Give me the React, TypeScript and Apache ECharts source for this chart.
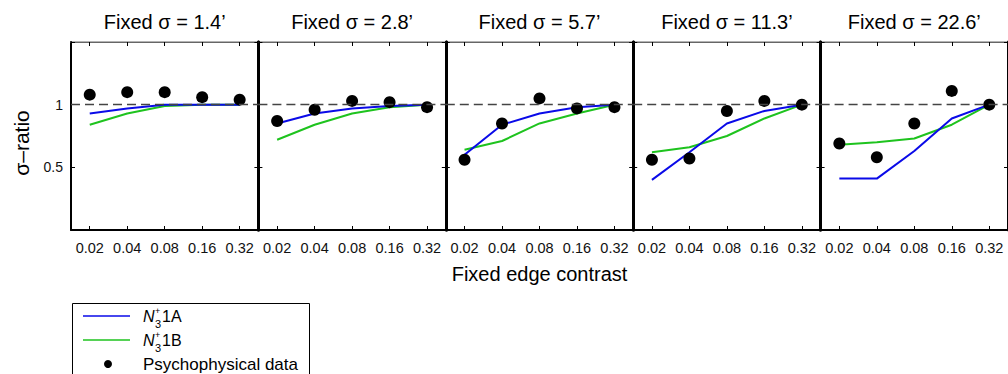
import React, { useEffect, useRef } from "react";
import * as echarts from "echarts";

const contrasts = ["0.02", "0.04", "0.08", "0.16", "0.32"];
const panelTitles = ["Fixed σ = 1.4’", "Fixed σ = 2.8’", "Fixed σ = 5.7’", "Fixed σ = 11.3’", "Fixed σ = 22.6’"];
const yTickLabels: Record<string, string> = { "0.5": "0.5", "1": "1" };

const psychData = [
  [1.08, 1.1, 1.1, 1.06, 1.04],
  [0.87, 0.96, 1.03, 1.02, 0.98],
  [0.56, 0.85, 1.05, 0.97, 0.98],
  [0.56, 0.57, 0.95, 1.03, 1.0],
  [0.69, 0.58, 0.85, 1.11, 1.0],
];
const model1A = [
  [0.93, 0.97, 1.0, 1.0, 1.0],
  [0.85, 0.93, 0.97, 0.99, 1.0],
  [0.6, 0.84, 0.93, 0.98, 1.0],
  [0.4, 0.62, 0.85, 0.95, 1.0],
  [0.41, 0.41, 0.63, 0.89, 1.0],
];
const model1B = [
  [0.84, 0.93, 0.99, 1.0, 1.0],
  [0.72, 0.84, 0.93, 0.98, 1.0],
  [0.64, 0.71, 0.85, 0.93, 1.0],
  [0.62, 0.66, 0.75, 0.89, 1.0],
  [0.68, 0.7, 0.73, 0.84, 1.0],
];

const FONT = "'Liberation Sans', Arial, Helvetica, sans-serif";
const BLUE = "#0a0ae8";
const GREEN = "#1ec31e";

export default function App() {
  const ref = useRef<HTMLDivElement>(null);

  useEffect(() => {
    if (!ref.current) return;
    const chart = echarts.init(ref.current, undefined, { renderer: "svg" });
    const n = panelTitles.length;
    const gLeft = 71;
    const gW = 187.4;
    const gTop = 42;
    const gH = 188;

    const grids: any[] = [];
    const xAxes: any[] = [];
    const yAxes: any[] = [];
    const series: any[] = [];
    const graphics: any[] = [];

    for (let i = 0; i < n; i++) {
      grids.push({
        left: gLeft + i * gW,
        top: gTop,
        width: gW,
        height: gH,
        containLabel: false,
        show: true,
        borderColor: "#666",
        borderWidth: 1,
        backgroundColor: "transparent",
      });
      xAxes.push({
        type: "category",
        gridIndex: i,
        position: "bottom",
        data: contrasts,
        boundaryGap: true,
        axisLine: { show: true, onZero: false, lineStyle: { color: "#000", width: 2 } },
        axisTick: { show: true, inside: true, alignWithLabel: true, interval: 0, length: 4, lineStyle: { color: "#000", width: 1 } },
        axisLabel: { show: true, interval: 0, hideOverlap: false, margin: 10, fontSize: 14.5, color: "#111", fontFamily: FONT },
        splitLine: { show: false },
      });
      xAxes.push({
        type: "category",
        gridIndex: i,
        position: "top",
        data: contrasts,
        boundaryGap: true,
        axisLine: { show: true, onZero: false, lineStyle: { color: "#666", width: 1 } },
        axisTick: { show: true, inside: true, alignWithLabel: true, interval: 0, length: 4, lineStyle: { color: "#000", width: 1 } },
        axisLabel: { show: false, interval: 0 },
        splitLine: { show: false },
      });
      yAxes.push({
        type: "value",
        gridIndex: i,
        position: "left",
        min: 0,
        max: 1.5,
        interval: 0.5,
        axisLine: { show: true, onZero: false, lineStyle: { color: "#000", width: i === 0 ? 2 : 3 } },
        axisTick: { show: true, inside: true, length: 4, lineStyle: { color: "#000", width: 1 } },
        axisLabel: {
          show: i === 0,
          margin: 8,
          fontSize: 14,
          color: "#111",
          fontFamily: FONT,
          formatter: (v: number) => yTickLabels[String(v)] ?? "",
        },
        splitLine: { show: false },
      });
      yAxes.push({
        type: "value",
        gridIndex: i,
        position: "right",
        min: 0,
        max: 1.5,
        interval: 0.5,
        axisLine: { show: true, onZero: false, lineStyle: { color: "#000", width: 3 } },
        axisTick: { show: true, inside: true, length: 4, lineStyle: { color: "#000", width: 1 } },
        axisLabel: { show: false },
        splitLine: { show: false },
      });

      const xi = i * 2;
      const yi = i * 2;
      series.push({
        type: "line",
        xAxisIndex: xi,
        yAxisIndex: yi,
        data: [],
        z: 1,
        silent: true,
        markLine: {
          silent: true,
          symbol: ["none", "none"],
          label: { show: false },
          lineStyle: { type: [9, 5], color: "#444", width: 1.3 },
          data: [{ yAxis: 1 }],
        },
      });
      series.push({
        type: "line",
        name: "N3+1A",
        xAxisIndex: xi,
        yAxisIndex: yi,
        data: model1A[i],
        showSymbol: false,
        symbol: "none",
        z: 3,
        lineStyle: { color: BLUE, width: 2 },
      });
      series.push({
        type: "line",
        name: "N3+1B",
        xAxisIndex: xi,
        yAxisIndex: yi,
        data: model1B[i],
        showSymbol: false,
        symbol: "none",
        z: 2,
        lineStyle: { color: GREEN, width: 2 },
      });
      series.push({
        type: "scatter",
        name: "Psychophysical data",
        xAxisIndex: xi,
        yAxisIndex: yi,
        data: psychData[i],
        symbol: "circle",
        symbolSize: 12,
        z: 4,
        itemStyle: { color: "#000", opacity: 1 },
      });

      graphics.push({
        type: "text",
        x: gLeft + i * gW + gW / 2,
        y: 22,
        style: {
          text: panelTitles[i],
          align: "center",
          verticalAlign: "middle",
          fontSize: 20,
          fontFamily: FONT,
          fill: "#000",
        },
      });
    }

    graphics.push({
      type: "text",
      x: gLeft + 2.5 * gW,
      y: 274,
      style: { text: "Fixed edge contrast", align: "center", verticalAlign: "middle", fontSize: 20, fontFamily: FONT, fill: "#000" },
    });
    graphics.push({
      type: "text",
      x: 21,
      y: 143,
      rotation: Math.PI / 2,
      style: { text: "σ–ratio", align: "center", verticalAlign: "middle", fontSize: 21, fontFamily: FONT, fill: "#000" },
    });

    // legend
    const lx = 72;
    const ly = 303;
    const rows = [316, 340, 364];
    graphics.push({
      type: "rect",
      shape: { x: lx + 0.5, y: ly + 0.5, width: 237, height: 90 },
      style: { fill: "#fff", stroke: "#000", lineWidth: 1 },
      z: 10,
    });
    const lineColors = [BLUE, GREEN];
    const lineLabels = ["1A", "1B"];
    for (let k = 0; k < 2; k++) {
      const yy = rows[k];
      graphics.push({ type: "line", shape: { x1: 83, y1: yy, x2: 130, y2: yy }, style: { stroke: lineColors[k], lineWidth: 1.5 }, z: 11 });
      graphics.push({ type: "text", x: 143, y: yy, z: 11, style: { text: "N", fontStyle: "italic", fontSize: 16, fontFamily: FONT, fill: "#000", align: "left", verticalAlign: "middle" } });
      graphics.push({ type: "text", x: 155, y: yy - 5, z: 11, style: { text: "+", fontSize: 9, fontFamily: FONT, fill: "#000", align: "left", verticalAlign: "middle" } });
      graphics.push({ type: "text", x: 155, y: yy + 8, z: 11, style: { text: "3", fontSize: 11, fontFamily: FONT, fill: "#000", align: "left", verticalAlign: "middle" } });
      graphics.push({ type: "text", x: 162, y: yy, z: 11, style: { text: lineLabels[k], fontSize: 16, fontFamily: FONT, fill: "#000", align: "left", verticalAlign: "middle" } });
    }
    graphics.push({ type: "circle", shape: { cx: 108, cy: rows[2], r: 4 }, style: { fill: "#000" }, z: 11 });
    graphics.push({ type: "text", x: 143, y: rows[2], z: 11, style: { text: "Psychophysical data", fontSize: 17, fontFamily: FONT, fill: "#000", align: "left", verticalAlign: "middle" } });

    chart.setOption({
      animation: false,
      backgroundColor: "#fff",
      grid: grids,
      xAxis: xAxes,
      yAxis: yAxes,
      series,
      graphic: graphics,
    });

    return () => chart.dispose();
  }, []);

  return <div ref={ref} style={{ position: "absolute", left: 0, top: 0, width: 1008, height: 374 }} />;
}
